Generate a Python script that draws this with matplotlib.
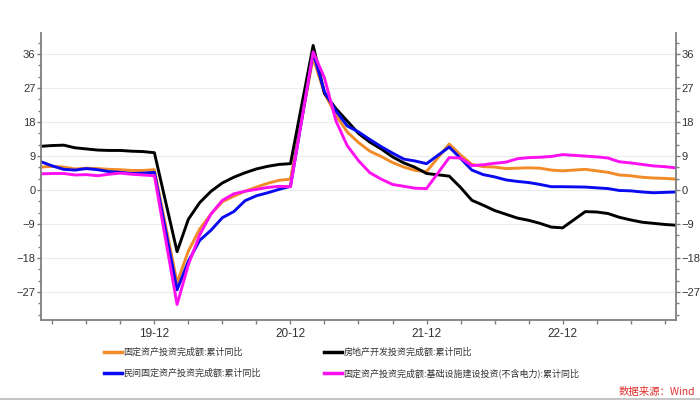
import numpy as np
import matplotlib
matplotlib.use('Agg')
import matplotlib.pyplot as plt
from matplotlib.lines import Line2D

plt.rcParams['font.family'] = ['Liberation Sans', 'Noto Sans CJK SC', 'DejaVu Sans']

# monthly observations (no January figures), 2019-02 .. 2023-10
periods = ([(2019, m) for m in range(2, 13)] + [(2020, m) for m in range(2, 13)] +
           [(2021, m) for m in range(2, 13)] + [(2022, m) for m in range(2, 13)] +
           [(2023, m) for m in range(2, 11)])

fai = [6.1, 6.3, 6.1, 5.6, 5.8, 5.7, 5.5, 5.4, 5.2, 5.2, 5.4,
       -24.5, -16.1, -10.3, -6.3, -3.1, -1.6, -0.3, 0.8, 1.8, 2.6, 2.9,
       35.0, 25.6, 19.9, 15.4, 12.6, 10.3, 8.9, 7.3, 6.1, 5.2, 4.9,
       12.2, 9.3, 6.8, 6.2, 6.1, 5.7, 5.8, 5.9, 5.8, 5.3, 5.1,
       5.5, 5.1, 4.7, 4.0, 3.8, 3.4, 3.2, 3.1, 2.9]
realestate = [11.6, 11.8, 11.9, 11.2, 10.9, 10.6, 10.5, 10.5, 10.3, 10.2, 9.9,
              -16.3, -7.7, -3.3, -0.3, 1.9, 3.4, 4.6, 5.6, 6.3, 6.8, 7.0,
              38.3, 25.6, 21.6, 18.3, 15.0, 12.7, 10.9, 8.8, 7.2, 6.0, 4.4,
              3.7, 0.7, -2.7, -4.0, -5.4, -6.4, -7.4, -8.0, -8.8, -9.8, -10.0,
              -5.7, -5.8, -6.2, -7.2, -7.9, -8.5, -8.8, -9.1, -9.3]
private = [7.5, 6.4, 5.5, 5.3, 5.7, 5.4, 4.9, 4.7, 4.4, 4.5, 4.7,
           -26.4, -18.8, -13.3, -10.6, -7.3, -5.7, -2.8, -1.5, -0.7, 0.2, 1.0,
           36.4, 26.0, 21.0, 17.0, 15.4, 13.4, 11.5, 9.8, 8.2, 7.7, 7.0,
           11.4, 8.4, 5.3, 4.1, 3.5, 2.7, 2.3, 2.0, 1.5, 0.9, 0.9,
           0.8, 0.6, 0.4, -0.1, -0.2, -0.5, -0.7, -0.6, -0.5]
infra = [4.3, 4.4, 4.4, 4.0, 4.1, 3.8, 4.2, 4.5, 4.2, 4.0, 3.8,
         -30.3, -19.7, -11.8, -6.3, -2.7, -1.0, -0.3, 0.2, 0.7, 1.0, 0.9,
         36.6, 29.7, 18.4, 11.8, 7.8, 4.6, 2.9, 1.5, 1.0, 0.5, 0.4,
         8.6, 8.5, 6.5, 6.7, 7.1, 7.4, 8.3, 8.6, 8.7, 8.9, 9.4,
         9.0, 8.8, 8.5, 7.5, 7.2, 6.8, 6.4, 6.2, 5.9]

names = ['固定资产投资完成额:累计同比',
         '房地产开发投资完成额:累计同比',
         '民间固定资产投资完成额:累计同比',
         '固定资产投资完成额:基础设施建设投资(不含电力):累计同比']
colors = ['#F28C28', '#000000', '#0A0AF0', '#FF10F0']
yticks = [-27, -18, -9, 0, 9, 18, 27, 36]
xlabels = {'19-12': (2019, 12), '20-12': (2020, 12), '21-12': (2021, 12), '22-12': (2022, 12)}

x = np.array([(y - 2019) * 12 + (m - 1) for y, m in periods])

fig = plt.figure(figsize=(7, 4.01), dpi=100)
ax = fig.add_axes([41 / 700, 1 - 320 / 401, 635 / 700, 287 / 401])

for series, c in zip([fai, realestate, private, infra], colors):
    ax.plot(x, series, color=c, lw=2.1, solid_joinstyle='round')

ax.set_xlim(1, 57)
ax.set_ylim(-34.4, 41.6)

spine_c = '#7F7F7F'
for s in ['left', 'right', 'bottom']:
    ax.spines[s].set_color(spine_c)
    ax.spines[s].set_linewidth(1.3)
ax.spines['top'].set_visible(False)

ax.set_yticks(yticks)
ax.set_yticks(np.arange(-33, 42, 3), minor=True)
ax.yaxis.grid(True, color='#ECECEC', lw=0.8)
ax.set_axisbelow(True)
ax.tick_params(axis='y', which='both', left=True, right=True, labelleft=True,
               labelright=True, colors=spine_c, labelcolor='#333333', labelsize=8,
               pad=1)
ax.tick_params(axis='y', which='major', length=3, width=1)
ax.tick_params(axis='y', which='minor', length=2, width=1)

qt = np.arange(2, 57, 3)
ax.set_xticks(qt)
lab_pos = {(yy - 2019) * 12 + (mm - 1): k for k, (yy, mm) in xlabels.items()}
ax.set_xticklabels([lab_pos.get(int(t), '') for t in qt])
ax.tick_params(axis='x', length=3, width=1, colors=spine_c, labelcolor='#333333',
               labelsize=8.5, pad=3)

handles = [Line2D([], [], color=c, lw=2.5) for c in colors]
order = [0, 2, 1, 3]
leg = fig.legend([handles[i] for i in order], [names[i] for i in order],
                 ncol=2, loc='upper left', bbox_to_anchor=(104 / 700, 1 - 348 / 401),
                 frameon=False, borderpad=0, borderaxespad=0, handlelength=2.0,
                 handletextpad=0.15, labelspacing=1.25, columnspacing=7.0,
                 prop={'family': ['Noto Sans CJK SC', 'DejaVu Sans'], 'size': 6.5})
for t in leg.get_texts():
    t.set_color('#333333')

fig.text(695 / 700, 1 - 392 / 401, '数据来源：Wind', color='#E0302E', style='italic',
         ha='right', va='center', fontsize=7.5,
         family=['Noto Sans CJK SC', 'DejaVu Sans'])
fig.add_artist(Line2D([0, 1], [1 - 399 / 401] * 2, color='#BBBBBB', lw=1.2))

fig.savefig('out.png', dpi=100)
